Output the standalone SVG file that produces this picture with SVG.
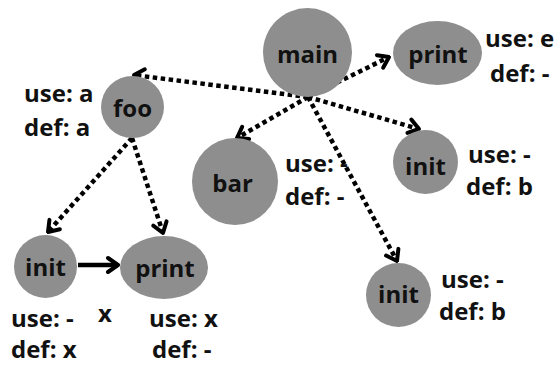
<svg xmlns="http://www.w3.org/2000/svg" width="556" height="365" viewBox="0 0 556 365">
<defs>
<style>
.node{fill:#8e8e8e;}
.nt{font-family:"Open Sans","Noto Sans","Liberation Sans",sans-serif;font-weight:700;font-size:24px;fill:#111;text-anchor:middle;}
.lb{font-family:"Open Sans","Noto Sans","Liberation Sans",sans-serif;font-weight:700;font-size:24px;fill:#111;}
.dot{stroke:#000;stroke-width:4.5;stroke-dasharray:4.5 3.5;fill:none;marker-end:url(#ah);}
.solid{stroke:#000;stroke-width:4.5;fill:none;marker-end:url(#ah);}
</style>
<marker id="ah" markerUnits="userSpaceOnUse" viewBox="-14 -10 16 20" markerWidth="16" markerHeight="20" refX="0" refY="0" orient="auto">
<path d="M -10 -7 L 0 0 L -10 7" fill="none" stroke="#000" stroke-width="4" stroke-linecap="round" stroke-linejoin="round"/>
</marker>
</defs>
<rect width="556" height="365" fill="#fff"/>
<g id="connectors">
<line class="dot" x1="308" y1="97" x2="134" y2="75"/>
<line class="dot" x1="308" y1="97" x2="389" y2="57"/>
<line class="dot" x1="308" y1="97" x2="419" y2="129"/>
<line class="dot" x1="308" y1="97" x2="237" y2="138"/>
<line class="dot" x1="308" y1="97" x2="397" y2="261"/>
<line class="dot" x1="132" y1="138" x2="48" y2="232"/>
<line class="dot" x1="132" y1="138" x2="163" y2="233"/>
<line class="solid" x1="78" y1="265" x2="118" y2="265"/>
</g>
<g id="main"><ellipse class="node" cx="307.5" cy="52.5" rx="44.5" ry="44.5"/><text class="nt" x="307.5" y="63">main</text></g>
<g id="print1"><ellipse class="node" cx="437.5" cy="53" rx="44.5" ry="32"/><text class="nt" x="438" y="63">print</text><text class="lb" x="485" y="47">use: e</text><text class="lb" x="490" y="82">def: -</text></g>
<g id="foo"><ellipse class="node" cx="132.5" cy="107" rx="31.5" ry="31"/><text class="nt" x="132.5" y="117">foo</text><text class="lb" x="24" y="102">use: a</text><text class="lb" x="24" y="136">def: a</text></g>
<g id="bar"><ellipse class="node" cx="235" cy="181.5" rx="43" ry="43.5"/><text class="nt" x="232.5" y="192">bar</text><text class="lb" x="285" y="172">use: -</text><text class="lb" x="285" y="205">def: -</text></g>
<g id="init1"><ellipse class="node" cx="425.5" cy="162" rx="32.5" ry="32"/><text class="nt" x="425.5" y="175">init</text><text class="lb" x="468" y="163">use: -</text><text class="lb" x="466" y="195">def: b</text></g>
<g id="init2"><ellipse class="node" cx="45.5" cy="266.5" rx="31.5" ry="31.5"/><text class="nt" x="45.5" y="276">init</text><text class="lb" x="11" y="327">use: -</text><text class="lb" x="11" y="358">def: x</text><text class="lb" x="98" y="322">x</text></g>
<g id="print2"><ellipse class="node" cx="164" cy="267.5" rx="44" ry="31.5"/><text class="nt" x="165" y="277">print</text><text class="lb" x="149" y="327">use: x</text><text class="lb" x="152" y="358">def: -</text></g>
<g id="init3"><ellipse class="node" cx="398.5" cy="295" rx="32.5" ry="32"/><text class="nt" x="398.5" y="303">init</text><text class="lb" x="441" y="288">use: -</text><text class="lb" x="439" y="320">def: b</text></g>
</svg>
